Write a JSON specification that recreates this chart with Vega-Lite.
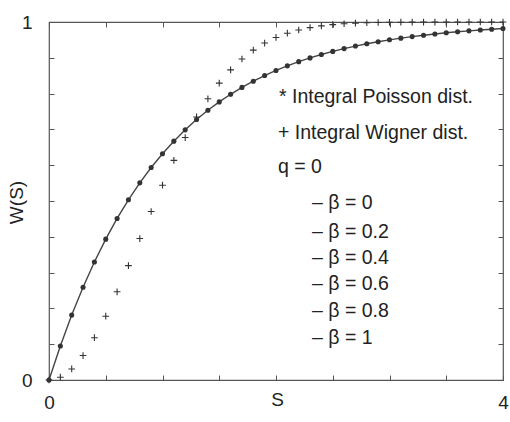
{
  "$schema": "https://vega.github.io/schema/vega-lite/v6.json",
  "autosize": {"type": "none"},
  "padding": {"left": 49, "top": 22, "right": 7, "bottom": 42},
  "width": 454,
  "height": 358,
  "background": "white",
  "config": {
    "view": {"stroke": "#555", "strokeWidth": 1.2},
    "font": "Liberation Sans",
    "axis": {
      "grid": false,
      "domain": false,
      "offset": -5,
      "tickColor": "#555",
      "tickSize": 5,
      "tickWidth": 1,
      "labelFont": "Liberation Sans",
      "labelFontSize": 19,
      "labelColor": "#222",
      "titleFont": "Liberation Sans",
      "titleFontSize": 19,
      "titleFontWeight": "normal",
      "titleColor": "#222"
    }
  },
  "datasets": {
    "curves": [
      {"S": 0.0, "P": 0.0, "Wg": 0.0},
      {"S": 0.1, "P": 0.09516, "Wg": 0.00782},
      {"S": 0.2, "P": 0.18127, "Wg": 0.03093},
      {"S": 0.3, "P": 0.25918, "Wg": 0.06825},
      {"S": 0.4, "P": 0.32968, "Wg": 0.11809},
      {"S": 0.5, "P": 0.39347, "Wg": 0.17828},
      {"S": 0.6, "P": 0.45119, "Wg": 0.2463},
      {"S": 0.7, "P": 0.50341, "Wg": 0.31944},
      {"S": 0.8, "P": 0.55067, "Wg": 0.39508},
      {"S": 0.9, "P": 0.59343, "Wg": 0.47069},
      {"S": 1.0, "P": 0.63212, "Wg": 0.54406},
      {"S": 1.1, "P": 0.66713, "Wg": 0.6134},
      {"S": 1.2, "P": 0.69881, "Wg": 0.67731},
      {"S": 1.3, "P": 0.72747, "Wg": 0.73482},
      {"S": 1.4, "P": 0.7534, "Wg": 0.78551},
      {"S": 1.5, "P": 0.77687, "Wg": 0.8292},
      {"S": 1.6, "P": 0.7981, "Wg": 0.86614},
      {"S": 1.7, "P": 0.81732, "Wg": 0.89669},
      {"S": 1.8, "P": 0.8347, "Wg": 0.9215},
      {"S": 1.9, "P": 0.85043, "Wg": 0.94128},
      {"S": 2.0, "P": 0.86466, "Wg": 0.95679},
      {"S": 2.1, "P": 0.87754, "Wg": 0.96867},
      {"S": 2.2, "P": 0.8892, "Wg": 0.97765},
      {"S": 2.3, "P": 0.89974, "Wg": 0.98431},
      {"S": 2.4, "P": 0.90928, "Wg": 0.98915},
      {"S": 2.5, "P": 0.91792, "Wg": 0.99262},
      {"S": 2.6, "P": 0.92573, "Wg": 0.99506},
      {"S": 2.7, "P": 0.93279, "Wg": 0.99674},
      {"S": 2.8, "P": 0.93919, "Wg": 0.99789},
      {"S": 2.9, "P": 0.94498, "Wg": 0.99865},
      {"S": 3.0, "P": 0.95021, "Wg": 0.99915},
      {"S": 3.1, "P": 0.95495, "Wg": 0.99947},
      {"S": 3.2, "P": 0.95924, "Wg": 0.99968},
      {"S": 3.3, "P": 0.96312, "Wg": 0.99981},
      {"S": 3.4, "P": 0.96663, "Wg": 0.99989},
      {"S": 3.5, "P": 0.9698, "Wg": 0.99993},
      {"S": 3.6, "P": 0.97268, "Wg": 0.99996},
      {"S": 3.7, "P": 0.97528, "Wg": 0.99998},
      {"S": 3.8, "P": 0.97763, "Wg": 0.99999},
      {"S": 3.9, "P": 0.97976, "Wg": 0.99999},
      {"S": 4.0, "P": 0.98168, "Wg": 1.0}
    ],
    "notes": [
      {"S": 2.026, "W": 0.7905, "label": "* Integral Poisson dist."},
      {"S": 2.018, "W": 0.69, "label": "+ Integral Wigner dist."},
      {"S": 2.018, "W": 0.595, "label": "q = 0"},
      {"S": 2.317, "W": 0.494, "label": "– β = 0"},
      {"S": 2.317, "W": 0.413, "label": "– β = 0.2"},
      {"S": 2.317, "W": 0.341, "label": "– β = 0.4"},
      {"S": 2.317, "W": 0.268, "label": "– β = 0.6"},
      {"S": 2.317, "W": 0.193, "label": "– β = 0.8"},
      {"S": 2.317, "W": 0.117, "label": "– β = 1"}
    ]
  },
  "resolve": {"axis": {"x": "independent", "y": "independent"}},
  "layer": [
    {
      "data": {"name": "curves"},
      "mark": {"type": "line", "color": "#444", "strokeWidth": 1.4},
      "encoding": {
        "x": {
          "field": "S", "type": "quantitative",
          "scale": {"domain": [0, 4], "nice": false, "zero": false},
          "axis": {
            "orient": "bottom",
            "values": [0, 0.5, 1, 1.5, 2, 2.5, 3, 3.5, 4],
            "labelExpr": "datum.value == 0 || datum.value == 4 ? format(datum.value, 'd') : ''",
            "labelPadding": 13,
            "labelFlush": false,
            "labelOverlap": false,
            "title": "S",
            "titleX": 228,
            "titleY": 24,
            "titleBaseline": "middle",
            "titleAnchor": null
          }
        },
        "y": {
          "field": "P", "type": "quantitative",
          "scale": {"domain": [0, 1], "nice": false, "zero": false},
          "axis": {
            "orient": "left",
            "values": [0, 0.1, 0.2, 0.3, 0.4, 0.5, 0.6, 0.7, 0.8, 0.9, 1],
            "labelExpr": "datum.value == 0 || datum.value == 1 ? format(datum.value, 'd') : ''",
            "labelPadding": 17,
            "labelFlush": false,
            "labelOverlap": false,
            "labelBaseline": "middle",
            "title": "W(S)",
            "titleX": -38,
            "titleY": 180,
            "titleAngle": -90,
            "titleAlign": "center",
            "titleBaseline": "middle",
            "titleAnchor": null
          }
        }
      }
    },
    {
      "data": {"name": "curves"},
      "mark": {"type": "point", "shape": "circle", "filled": true, "color": "#333", "size": 26, "opacity": 1},
      "encoding": {
        "x": {
          "field": "S", "type": "quantitative",
          "axis": {
            "orient": "top",
            "values": [0, 0.5, 1, 1.5, 2, 2.5, 3, 3.5, 4],
            "labels": false,
            "title": null
          }
        },
        "y": {
          "field": "P", "type": "quantitative",
          "axis": {
            "orient": "right",
            "values": [0, 0.1, 0.2, 0.3, 0.4, 0.5, 0.6, 0.7, 0.8, 0.9, 1],
            "labels": false,
            "title": null
          }
        }
      }
    },
    {
      "data": {"name": "curves"},
      "mark": {"type": "point", "shape": "M-1,0L1,0M0,-1L0,1", "filled": false, "color": "#333", "strokeWidth": 1.1, "size": 45, "opacity": 1},
      "encoding": {
        "x": {"field": "S", "type": "quantitative", "axis": null},
        "y": {"field": "Wg", "type": "quantitative", "axis": null}
      }
    },
    {
      "data": {"name": "notes"},
      "mark": {"type": "text", "align": "left", "baseline": "middle", "fontSize": 19.5, "color": "#222", "font": "Liberation Sans"},
      "encoding": {
        "x": {"field": "S", "type": "quantitative", "axis": null},
        "y": {"field": "W", "type": "quantitative", "axis": null},
        "text": {"field": "label"}
      }
    }
  ]
}
